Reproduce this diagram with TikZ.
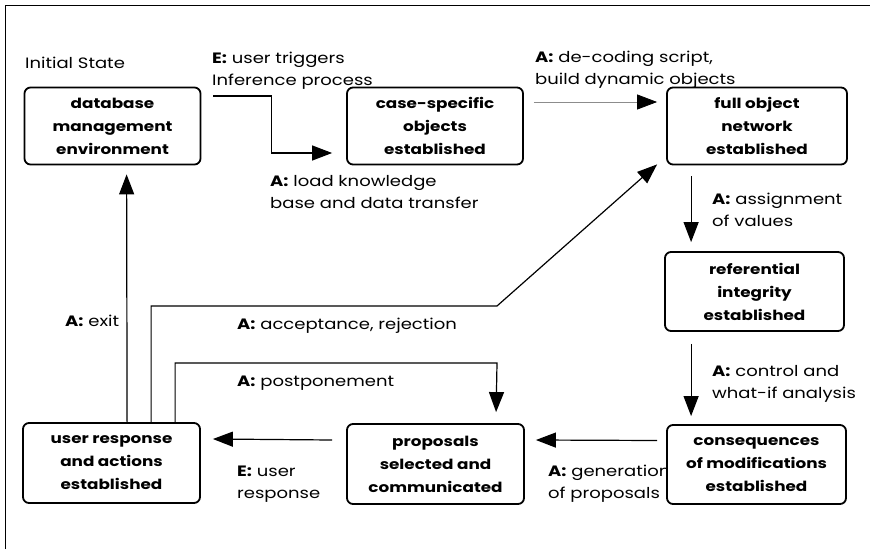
\documentclass[tikz,border=0pt]{standalone}
\usepackage{fontspec}
\setmainfont{Poppins}[FakeStretch=1.2]
\usetikzlibrary{arrows.meta}

\tikzset{
  state/.style={draw, line width=1.8pt, rounded corners=6pt, fill=white,
    align=center, inner sep=0pt, minimum height=77pt,
    font=\bfseries\fontsize{14}{23}\selectfont},
  % labels are anchored at the baseline of their last line
  lbl/.style={anchor=base west, align=left, inner sep=0pt,
    font=\fontsize{15}{21.5}\selectfont},
  flow/.style={line width=1.2pt, -{Triangle[length=20pt,width=15pt]}},
  frame/.style={line width=1pt}
}

\begin{document}
\begin{tikzpicture}[x=1pt,y=-1pt]
  \useasboundingbox (0,0) rectangle (870,549);
  \fill[white] (0,0) rectangle (870,549);

  % outer frame (top and left edges)
  \draw[frame] (5,549) -- (5,5) -- (870,5);

  % edge labels (placed before the boxes so a box may cover them)
  \node[lbl] (lInit) at (25,68) {Initial State};
  \node[lbl] (lTrig) at (212,85) {\textbf{E:} user triggers\\Inference process};
  \node[lbl] (lLoad) at (270,208) {\textbf{A:} load knowledge\\base and data transfer};
  \node[lbl] (lDec)  at (535,84) {\textbf{A:} de-coding script,\\build dynamic objects};
  \node[lbl] (lAsg)  at (712,226) {\textbf{A:} assignment\\of values};
  \node[lbl] (lCtl)  at (712,398) {\textbf{A:} control and\\what-if analysis};
  \node[lbl] (lGen)  at (548,498) {\textbf{A:} generation\\of proposals};
  \node[lbl] (lUsr)  at (237,498) {\textbf{E:} user\\response};
  \node[lbl] (lExit) at (65,326) {\textbf{A:} exit};
  \node[lbl] (lAcc)  at (237,329) {\textbf{A:} acceptance, rejection};
  \node[lbl] (lPost) at (237,386) {\textbf{A:} postponement};

  % states
  \node[state, minimum width=176pt] (db)   at (112.5,126) {database\\management\\environment};
  \node[state, minimum width=176pt] (case) at (435,126)   {case-specific\\objects\\established};
  \node[state, minimum width=180pt] (full) at (757,126)   {full object\\network\\established};
  \node[state, minimum width=179pt, minimum height=79pt] (ref)  at (754.5,291.5) {referential\\integrity\\established};
  \node[state, minimum width=179pt, minimum height=79pt] (cons) at (756.5,464.5) {consequences\\of modifications\\established};
  \node[state, minimum width=177pt, minimum height=80pt] (prop) at (435.5,464)   {proposals\\selected and\\communicated};
  \node[state, minimum width=177pt, minimum height=80pt] (user) at (111.5,463)   {user response\\and actions\\established};

  % bend points
  \coordinate (accBend)  at (497,306);
  \coordinate (postBend) at (497,363);

  % transitions
  \draw[flow] ([xshift=12pt,yshift=30pt]db.east) -- ++(58,0)
              |- ([xshift=-14pt,yshift=-27pt]case.west);
  \draw[line width=0.8pt, draw=black!45,
        -{Triangle[length=20pt,width=15pt,color=black,fill=black]}]
              ([xshift=10pt,yshift=24pt]case.east) -- ([xshift=-9pt,yshift=24pt]full.west);
  \draw[flow] ([xshift=25pt,yshift=-11pt]full.south west) -- ([xshift=27pt,yshift=9pt]ref.north west);
  \draw[flow] ([xshift=27pt,yshift=-12pt]ref.south west) -- ([xshift=25pt,yshift=8pt]cons.north west);
  \draw[flow] ([xshift=-9pt,yshift=24pt]cons.west) -- ([xshift=11pt,yshift=24pt]prop.east);
  \draw[flow] ([xshift=-14pt,yshift=24pt]prop.west) -- ([xshift=12pt,yshift=24pt]user.east);
  \draw[flow] ([xshift=105pt]user.north west) -- ([xshift=103pt,yshift=-9pt]db.south west);
  \draw[flow] ([xshift=129pt]user.north west) |- (accBend) -- ([xshift=-9pt,yshift=1pt]full.south west);
  \draw[flow] ([xshift=153pt]user.north west) |- (postBend) -- ([xshift=150pt,yshift=11pt]prop.north west);
\end{tikzpicture}
\end{document}
